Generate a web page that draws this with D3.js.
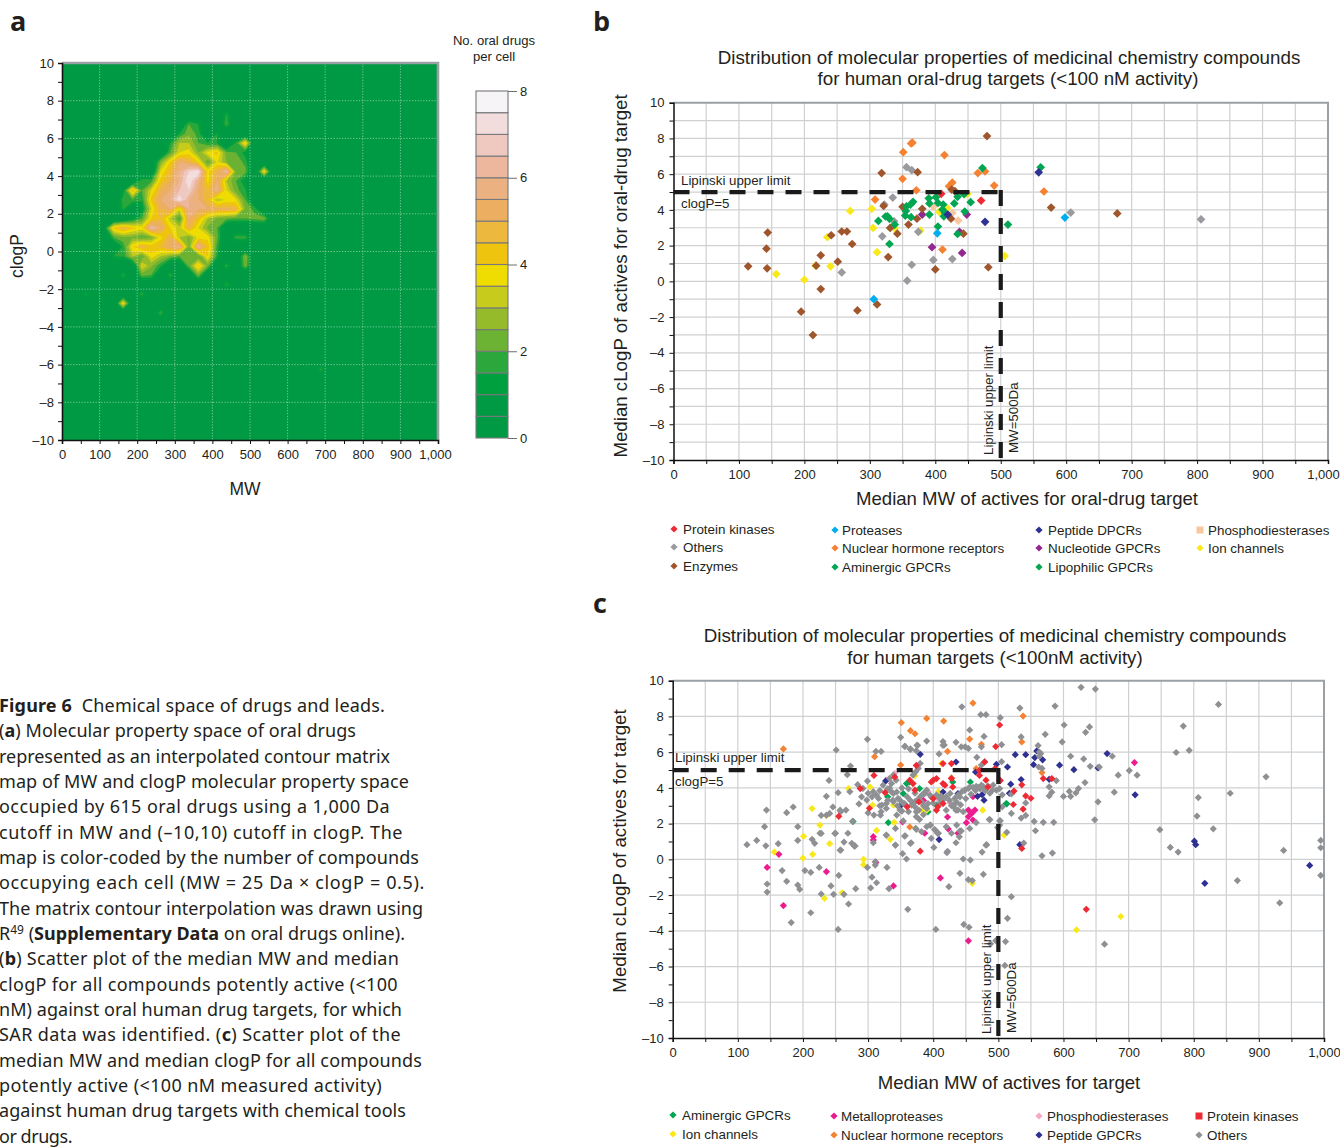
<!DOCTYPE html>
<html>
<head>
<meta charset="utf-8">
<style>
  html, body { margin: 0; padding: 0; background: #fff; }
  svg { display: block; }
  text { font-family: "Liberation Sans", Arial, sans-serif; fill: #231f20; }
  .caption text, .caption { font-family: "Noto Sans", sans-serif; font-size: 18px; }
  .letter { font-family: "Open Sans", sans-serif; font-weight: 700; font-size: 27px; }
  .tick text { font-size: 13px; font-family: "Liberation Sans", Arial, sans-serif; }
</style>
<script src="https://cdn.jsdelivr.net/npm/d3@7"></script>
</head>
<body>
<div id="chart"></div>
<script>
// panel a: drug counts on the 25 Da x 0.5 clogP grid, read from the contour map
// columns are cells 0..24 (MW 12.5, 37.5, ... 612.5), rows listed by clogP cell centre
const gridClogP = [7.25, 6.75, 6.25, 5.75, 5.25, 4.75, 4.25, 3.75, 3.25, 2.75, 2.25, 1.75, 1.25, 0.75, 0.25, -0.25, -0.75, -1.25, -1.75, -2.25, -2.75, -3.25];
const gridCounts = [
  [0,0,0,0,0,0,0,0,0,0,0,0,0,0,0,0,0,1.6,0,0,0,0,0,0,0],
  [0,0,0,0,0,0,0,0,0,0,0,0,0,2,1.5,0,0,2,0,0,0,0,0,0,0],
  [0,0,0,0,0,0,0,0,0,0,0,0,1.5,2.4,1.8,0,1.5,0,0,0,0,0,0,0,0],
  [0,0,0,0,0,0,0,0,0,0,0,1.5,3,3,2,1.5,1.5,0,1.6,4.2,0,0,0,0,0],
  [0,0,0,0,0,0,0,0,0,0,0,2,3.5,3.8,2.5,3.7,4.2,2.2,2,1.2,0,0,0,0,0],
  [0,0,0,0,0,0,0,0,0,0,2.5,4,5.5,5,4,2,3.6,2.5,2.4,1.8,0,0,0,0,0],
  [0,0,0,0,0,0,0,0,0,0,3.6,4.6,6,7,7.5,3.8,5,6.5,2.4,2.2,0,4,0,0,0],
  [0,0,0,0,0,0,0,0,1.8,1.8,4.2,5,6,7.5,6,3.8,5.5,3,2,1,0,0,0,0,0],
  [0,0,0,0,0,0,1,4.6,2,3.5,5,5.5,6.5,7,5.5,4.5,6,3.5,2.2,1.6,0,0,0,0,0],
  [0,0,0,0,0,0,1.8,2,1.6,4.2,5.5,6,7.5,6,5.5,4.5,3,3.6,3.6,2,0,0,0,0,0],
  [0,0,0,0,0,0,1.6,0,1,3.5,5,5.5,3.5,6,5.5,5.5,5.2,5.2,5,2.4,1.8,0,0,0,0],
  [0,0,0,0,0,0,0,1,2,4,4.6,3.2,1.8,5.5,4.4,3,2.4,2.2,2,2,2.2,2.4,0,0,0],
  [0,0,0,0,1,4.2,5,4.2,3.8,6.5,5.5,4,3.2,5,3.5,2.4,2,0,0,0,0,0,0,0,0],
  [0,0,0,0,0,2,2.4,2.4,2,2.4,3.8,5,3,2.4,3.7,3.8,2.2,0,1.8,1.8,0,0,0,0,0],
  [0,0,0,0,0,0,1.6,4,5,4.4,4.6,5.5,6,2.4,6.2,4.5,1.8,0,0,0,0,0,0,0,0],
  [0,0,0,0,0,1.5,1.6,3,2,3.8,3,2.4,2,2.2,2,4,1.6,0,0,2.6,0,0,0,0,0],
  [0,0,0,0,0,0,0,0,3.6,2.6,1.6,0,0,2.2,4.2,2.4,0,1.8,0,2.4,0,0,0,0,0],
  [0,0,0,0,0,0,1.7,0,2.2,2,0,1.8,0,0,2.4,0,0,0,0,0,0,0,0,0,0],
  [0,0,0,0,0,0,0,0,0,0,0,0,0,0,0,0,0,1.7,0,0,0,0,0,0,0],
  [0,0,1.6,0,0,0,0,0,1.8,0,0,0,0,0,0,0,0,0,0,0,0,0,0,0,0],
  [0,0,0,0,0,0,4,0,0,0,0,0,0,0,0,0,0,0,0,0,0,0,0,0,0],
  [0,0,0,0,0,0,0,0,0,0,1.9,0,0,0,0,0,0,0,0,0,0,0,0,0,0]
];
// isolated faint cells outside the table: [mw, clogP, count]
const farCells = [[812.5, 2.75, 1.5], [687.5, -6.25, 1.7]];
const countThresholds = d3.range(0.5, 8, 0.5);
const bandColors = ["#009a44", "#009a44", "#00a03f", "#2ca73b", "#6cb233", "#95bb2a", "#c7cc1c", "#efdc00", "#eec40e", "#edb83e", "#ecae60", "#ecb181", "#edb79d", "#efc9bf", "#f3dcdc", "#f6f4f6"];

// panel b: [median MW, median clogP] per oral-drug target
const bEnzymes = [[114,0.84],[142,1.83],[144,2.73],[143,0.73],[195,-1.7],[213,-3.01],[218,0.88],[225,1.46],[225,-0.43],[241,2.58],[251,1.1],[257,2.79],[265,2.79],[273,2.09],[281,-1.63],[311,-1.29],[318,6.06],[321,4.22],[328,1.36],[331,2.99],[342,2.67],[350,4.17],[359,3.18],[372,3.51],[373,6.11],[380,4.06],[400,0.67],[424,3.51],[425,5.14],[430,5.05],[443,2.67],[481,0.79],[479,8.13],[577,4.13],[678,3.8]];
const bNuclear = [[351,7.23],[363,7.72],[365,7.76],[414,7.07],[350,5.74],[465,6.06],[476,6.15],[490,5.36],[371,5.1],[421,5.33],[426,5.53],[308,4.58],[411,1.78],[566,5.03]];
const bOthers = [[356,6.39],[364,6.22],[335,4.69],[322,4.3],[337,3.36],[319,2.52],[374,2.77],[257,0.5],[364,0.93],[357,0.04],[397,1.2],[426,1.25],[607,3.85],[806,3.47]];
const bPeptide = [[419,3.74],[476,3.33],[558,6.1]];
const bProteases = [[306,-1],[403,2.69],[598,3.57]];
const bNucleotide = [[380,3.74],[395,1.91],[441,1.59],[448,3.74],[437,2.77]];
const bPhospho = [[397,4.17],[426,3.83],[435,3.4]];
const bKinases = [[409,4.9],[470,4.52]];
const bIon = [[157,0.41],[200,0.09],[217,0.88],[235,2.47],[240,0.84],[270,3.94],[303,4.06],[305,2.99],[311,1.63],[338,2.99],[377,2.84],[406,3.89],[418,4.11],[449,4.9],[506,1.42]];
const bAminergic = [[313,3.38],[324,3.63],[327,3.64],[330,3.5],[338,3.18],[330,2.09],[354,3.68],[356,4.2],[355,3.94],[362,4.3],[366,4.45],[363,3.59],[390,4.65],[391,4.36],[391,3.74],[404,3.07],[401,4.71],[404,4.39],[412,4.3],[411,4.02],[413,3.64],[415,3.83],[429,4.36],[434,4.73],[444,4.88],[454,4.43],[434,2.65]];
const bLipophilic = [[472,6.34],[561,6.38],[511,3.18],[445,3.91]];

// panel c: [median MW, median clogP] per human target
const cAminergic = [[331,2.06],[277,2.12],[330,3.5],[359,4.24],[364,4.33],[354,3.68],[405,3.03],[392,2.66],[457,4.33],[512,3.12],[379,3.96],[430,4.33],[513,3.11]];
const cPhospho = [[392,3.78],[426,3.16],[328,4.43],[341,4.82],[407,3.4]];
const cIon = [[156,0.41],[214,2.84],[201,1.29],[226,1.92],[236,2.46],[241,0.88],[215,0.28],[200,0.07],[293,0],[293,-0.3],[313,1.62],[334,1.12],[340,2.07],[233,-2.18],[260,-1.87],[270,3.96],[303,4.05],[307,3.04],[460,-1.34],[372,4.68],[413,5.37],[408,3.79],[339,3.04],[390,2.76],[382,2.75],[476,2.75],[509,1.36],[620,-3.95],[688,-3.2]];
const cMetallo = [[145,-0.45],[163,0.28],[236,-0.69],[170,-2.59],[308,1.27],[308,1.08],[312,-0.17],[339,-1.49],[411,-1.04],[387,1.46],[422,2.37],[423,1.7],[438,1.46],[461,3.51],[464,2.76],[454,2.39],[461,2.2],[451,2.05],[454,2.76],[459,2.57],[385,3.3],[353,2.1],[454,-4.56],[709,5.42]];
const cNuclear = [[170,6.18],[351,7.65],[365,7.2],[372,7.03],[390,7.89],[416,7.74],[461,8.75],[456,6.73],[474,6.44],[422,6.04],[310,5.75],[350,5.28],[364,1.81],[466,5.08],[428,4.56],[538,8.02],[536,6.57],[567,4.86]];
const cPeptide = [[327,4.39],[349,2.97],[380,5.88],[435,5.45],[465,4.89],[497,5.32],[514,5.17],[415,3.77],[409,1.11],[468,3.53],[475,3.62],[478,3.31],[438,3.68],[526,5.86],[542,5.86],[559,6.07],[556,5.7],[568,5.57],[554,5.3],[594,5.27],[616,5.02],[667,5.92],[653,5.12],[535,4.47],[519,4.21],[517,3.7],[578,4.48],[710,3.61],[533,0.82],[801,1.02],[803,0.82],[817,-1.34],[978,-0.34]];
const cKinases = [[288,3.96],[309,4.7],[255,2.41],[302,2.86],[326,3.74],[341,4.61],[369,4.24],[364,4.43],[372,3.87],[360,2.94],[378,3.22],[400,4.43],[397,4.33],[405,4.52],[415,5.36],[428,5.36],[415,4.24],[418,4.15],[430,4.05],[428,4.52],[400,3.4],[407,2.94],[415,3.12],[405,2.75],[471,4.98],[479,5.45],[471,4.7],[481,4.43],[484,4.05],[502,4.43],[374,5.26],[380,0.46],[502,7.52],[496,6.31],[503,4.41],[536,4.17],[569,4.52],[582,4.52],[524,3.82],[542,3.55],[550,3.42],[523,3.07],[538,2.81],[536,0.61],[635,-2.8],[495,5.08]];
const cOthers = [
  [114,0.82],[129,1.06],[143,0.76],[144,2.76],[141,1.83],[145,-1.38],[145,-1.83],[162,0.88],[168,-0.63],[175,2.61],[185,2.93],[175,-1.23],[182,-3.54],[192,1.83],[192,1.06],[192,-1.44],[195,-1.68],[203,-0.63],[212,-0.73],[212,-2.99],[214,1.12],[218,0.9],[226,1.46],[228,2.46],[225,-0.45],[228,-1.94],[236,3.53],[241,2.57],[246,2.93],[250,1.46],[243,-1.49],[247,-1.96],[255,-0.9],[254,3.73],[251,6.12],[258,2.67],[266,2.76],[258,0.52],[263,0.97],[263,-1.96],[269,1.46],[275,0.9],[280,0.75],[276,2.13],[273,5.22],[268,4.74],[240,4.42],[272,3.79],[270,-2.5],[281,-1.64],[284,4.18],[292,3.97],[299,6.72],[299,4.38],[299,-0.45],[306,-1],[313,-1.31],[304,-1.6],[311,-0.13],[311,-0.32],[308,0.93],[309,2.48],[298,3.32],[300,3.7],[308,3.79],[313,3.6],[316,3.41],[312,6.04],[320,6.04],[320,2.67],[321,3.04],[328,3.13],[328,2.85],[329,-0.45],[328,1.36],[342,0.8],[332,-1.64],[344,2.48],[339,3.23],[342,1.73],[349,2.76],[350,6.83],[357,6.32],[365,6.18],[376,6.38],[374,6.08],[390,6.62],[357,1.32],[353,0.32],[359,0.02],[361,-2.8],[366,0.93],[362,2.67],[369,3.13],[374,2.39],[378,2.76],[385,2.5],[390,2.85],[374,1.68],[382,1.55],[390,1.83],[397,1.18],[401,0.67],[396,1.92],[403,1.64],[408,1.46],[420,1.83],[428,1.46],[435,0.93],[441,-0.78],[446,0.02],[457,-0.04],[422,0.45],[424,-1.53],[454,-1.14],[460,-1.19],[477,-0.84],[475,0.41],[482,0.82],[487,2.22],[466,2.05],[456,1.73],[443,1.59],[436,1.92],
  [447,-3.64],[455,-3.8],[404,-3.92],[254,-3.92],[444,8.54],[473,8.1],[481,8.1],[456,7.24],[478,6.88],[415,6.59],[417,6.4],[435,6.55],[443,6.3],[449,6.3],[454,6.21],[474,6.3],[409,5.9],[467,5.71],[479,5.47],[474,5.28],[380,5.37],[377,5.09],[373,4.9],[369,4.72],[339,4.72],[333,4.53],
  [433,3.41],[438,3.6],[444,3.79],[449,3.88],[454,3.97],[461,4.03],[469,4.03],[477,4.07],[484,4.1],[492,4.16],[431,2.95],[438,2.76],[446,2.67],[420,3.51],[426,3.69],[415,3.32],[410,3.13],[390,3.88],[395,3.6],[385,3.69],[380,3.51],[372,3.23],[367,3.04],[354,3.13],[346,3.41],[339,3.69],[333,3.97],
  [323,4.15],[336,4.24],[343,4.43],[336,3.77],[344,3.77],[338,3.31],[349,3.31],[356,3.12],[372,2.94],[374,2.66],[382,3.22],[392,3.12],[387,3.68],[397,3.49],[410,3.4],[420,2.75],[435,2.75],[433,3.12],[441,3.49],[448,3.87],[456,4.05],[466,4.09],[474,4.15],[491,3.87],[497,3.87],[502,3.96],[356,6.32],[365,6.16],[375,6.38],[415,6.38],[236,2.47],[228,1.45],[257,2.75],[249,1.45],[279,0.74],[257,0.51],[319,2.47],[354,2.15],[373,1.73],[379,2.23],[395,1.91],[402,1.67],[407,1.45],[356,1.3],[365,0.89],[342,0.79],[328,1.35],[440,1.26],[421,0.37],[441,1.59],[486,2.23],[502,2.15],[499,1.78],[481,0.79],
  [345,3],[352,2.7],[318,3.85],[330,3.95],[360,3.5],[365,3.3],[375,3.3],[385,3],[400,3.15],[405,3.6],[412,3.55],[425,3.3],[428,3],[436,3.2],[442,3.05],[450,3.4],[458,3.65],[465,3.85],[472,3.95],[480,3.85],[487,3.7],[352,4],[362,3.95],[372,3.7],[330,3.3],[318,3],[306,3.5],[290,3.5],[286,3.1],[300,2.6],
  [627,9.63],[649,9.53],[533,8.47],[587,8.58],[503,7.93],[601,7.52],[640,7.41],[634,7.11],[572,7],[535,6.85],[598,6.57],[505,6.42],[561,6.37],[563,6.01],[565,5.92],[563,5.77],[611,5.77],[631,5.62],[505,5.47],[641,5.21],[562,5.17],[567,5.09],[655,5.17],[675,5.77],[684,4.71],[701,4.97],[713,4.71],[589,4.41],[578,4.06],[633,4.3],[623,3.96],[609,3.8],[619,3.72],[582,3.76],[578,3.55],[600,3.52],[611,3.52],[678,3.76],[653,3.22],[506,3.61],[520,3.66],[542,3.16],[506,2.94],[520,2.57],[542,2.46],[535,2.31],[555,2.12],[569,2.07],[585,2.07],[648,2.21],[557,1.6],[503,2.16],[502,1.92],[513,1.51],[539,0.91],[567,0.2],[583,0.35],[520,-2.09],[514,-3.3],[511,-4.6],[663,-4.75],[510,-5.94],[488,-4.73],[496,-4.55],
  [748,1.66],[764,0.67],[776,0.41],[773,5.98],[793,6.1],[784,7.46],[838,8.67],[807,3.46],[805,2.42],[830,1.71],[856,3.7],[911,4.62],[867,-1.19],[938,0.5],[932,-2.44],[995,1.06],[995,0.65],[995,-0.9]
];

const lipinskiMw = 500;
const lipinskiClogP = 5;
const mwTicks = d3.range(0, 1001, 100);
const clogPTicks = d3.range(-10, 11, 2);
const legendTicks = [0, 2, 4, 6, 8];

const captionLines = [
  [["Figure 6", true], ["  Chemical space of drugs and leads.", false]],
  [["(", false], ["a", true], [") Molecular property space of oral drugs", false]],
  [["represented as an interpolated contour matrix", false]],
  [["map of MW and clogP molecular property space", false]],
  [["occupied by 615 oral drugs using a 1,000 Da", false]],
  [["cutoff in MW and (\u201310,10) cutoff in clogP. The", false]],
  [["map is color-coded by the number of compounds", false]],
  [["occupying each cell (MW = 25 Da \u00d7 clogP = 0.5).", false]],
  [["The matrix contour interpolation was drawn using", false]],
  [["R", false], ["49", false, true], [" (", false], ["Supplementary Data", true], [" on oral drugs online).", false]],
  [["(", false], ["b", true], [") Scatter plot of the median MW and median", false]],
  [["clogP for all compounds potently active (<100", false]],
  [["nM) against oral human drug targets, for which", false]],
  [["SAR data was identified. (", false], ["c", true], [") Scatter plot of the", false]],
  [["median MW and median clogP for all compounds", false]],
  [["potently active (<100 nM measured activity)", false]],
  [["against human drug targets with chemical tools", false]],
  [["or drugs.", false]]
];
const captionEnds = [385, 356, 390, 409, 390, 403, 419, 425, 423, 405, 399, 398, 402, 401, 422, 382, 406, 72];

const svg = d3.select("#chart").append("svg").attr("width", 1340).attr("height", 1147);

const fmt = d => d < 0 ? "\u2013" + Math.abs(d) : (d >= 1000 ? "1,000" : String(d));

function label(x, y, txt, size, anchor, rotate) {
  const t = svg.append("text").attr("font-size", size).attr("text-anchor", anchor || "start").text(txt);
  if (rotate) t.attr("transform", `translate(${x},${y}) rotate(${rotate})`);
  else t.attr("x", x).attr("y", y);
  return t;
}

// diamond that is as wide as it is tall, d3.symbolDiamond is too narrow here
const squareDiamond = {
  draw(ctx, size) {
    const r = Math.sqrt(size / 2);
    ctx.moveTo(0, -r); ctx.lineTo(r, 0); ctx.lineTo(0, r); ctx.lineTo(-r, 0); ctx.closePath();
  }
};

/* ---------- panel a ---------- */
const ax = d3.scaleLinear().domain([0, 1000]).range([62, 438]);
const ay = d3.scaleLinear().domain([-10, 10]).range([440, 63]);

const cellCount = 40;
const values = new Array(cellCount * cellCount).fill(0);
gridClogP.forEach((p, r) => {
  const row = Math.round((p + 9.75) / 0.5);
  gridCounts[r].forEach((v, c) => { values[row * cellCount + c] = v; });
});
farCells.forEach(([mw, p, v]) => {
  values[Math.round((p + 9.75) / 0.5) * cellCount + Math.round((mw - 12.5) / 25)] = v;
});

const defs = svg.append("defs");
defs.append("clipPath").attr("id", "clipA").append("rect")
  .attr("x", ax(0)).attr("y", ay(10)).attr("width", ax(1000) - ax(0)).attr("height", ay(-10) - ay(10));
defs.append("filter").attr("id", "soft").append("feGaussianBlur").attr("stdDeviation", 0.5);

const contourPath = d3.geoPath(d3.geoTransform({
  point(x, y) { this.stream.point(ax(x * 25), ay(-10 + y * 0.5)); }
}));
const contours = d3.contours().size([cellCount, cellCount]).thresholds(countThresholds)(values);

const gA = svg.append("g");
gA.append("rect").attr("x", ax(0)).attr("y", ay(10)).attr("width", ax(1000) - ax(0)).attr("height", ay(-10) - ay(10)).attr("fill", bandColors[0]);
gA.append("g").attr("clip-path", "url(#clipA)").append("g").attr("filter", "url(#soft)")
  .selectAll("path").data(contours).enter().append("path")
  .attr("d", contourPath)
  .attr("fill", (d, i) => bandColors[i + 1]);

// dotted grid
gA.selectAll(".gv").data(mwTicks.slice(1, -1)).enter().append("line")
  .attr("x1", d => ax(d)).attr("x2", d => ax(d)).attr("y1", ay(10)).attr("y2", ay(-10))
  .attr("stroke", "#fff").attr("stroke-opacity", 0.6).attr("stroke-width", 0.8).attr("stroke-dasharray", "1.2,1.6");
gA.selectAll(".gh").data(clogPTicks.slice(1, -1)).enter().append("line")
  .attr("x1", ax(0)).attr("x2", ax(1000)).attr("y1", d => ay(d)).attr("y2", d => ay(d))
  .attr("stroke", "#fff").attr("stroke-opacity", 0.6).attr("stroke-width", 0.8).attr("stroke-dasharray", "1.2,1.6");
gA.append("path").attr("d", `M${ax(0)},${ay(10)}H${ax(1000)}V${ay(-10)}`).attr("fill", "none").attr("stroke", "#9ba0a4").attr("stroke-width", 2.6);

const axA = gA.append("g").attr("transform", `translate(0,${ay(-10)})`)
  .call(d3.axisBottom(ax).tickValues(d3.range(0, 1001, 50)).tickSize(4).tickPadding(6).tickFormat(d => d % 100 === 0 ? fmt(d) : ""));
const ayA = gA.append("g").attr("transform", `translate(${ax(0)},0)`)
  .call(d3.axisLeft(ay).tickValues(d3.range(-10, 11, 1)).tickSize(4).tickPadding(4).tickFormat(d => d % 2 === 0 ? fmt(d) : ""));
[axA, ayA].forEach(g => { g.select(".domain").attr("stroke", "#111").attr("stroke-width", 1.6); g.selectAll("line").attr("stroke", "#111"); });
axA.selectAll(".tick text").filter(d => d === 1000).attr("dx", -3);

label(245, 495, "MW", 17.5, "middle");
label(23, 256, "clogP", 17.5, "middle", -90);
label(494, 45, "No. oral drugs", 13.1, "middle");
label(494, 61, "per cell", 13.1, "middle");

// colour key
const keyY = d3.scaleLinear().domain([0, 8]).range([438, 91]);
const keyG = svg.append("g");
keyG.selectAll("rect").data(bandColors).enter().append("rect")
  .attr("x", 476).attr("width", 32)
  .attr("y", (d, i) => keyY((i + 1) * 0.5)).attr("height", (d, i) => keyY(i * 0.5) - keyY((i + 1) * 0.5))
  .attr("fill", d => d).attr("stroke", "#77787b").attr("stroke-width", 1.1);
const keyAxis = keyG.append("g").attr("transform", "translate(508,0)")
  .call(d3.axisRight(keyY).tickValues(legendTicks).tickSize(9).tickPadding(3));
keyAxis.select(".domain").remove();
keyAxis.selectAll("line").attr("stroke", "#6d6e71").attr("stroke-width", 1);

/* ---------- panels b and c ---------- */
function scatterPanel(cfg) {
  const x = d3.scaleLinear().domain([0, 1000]).range(cfg.xRange);
  const y = d3.scaleLinear().domain([-10, 10]).range(cfg.yRange);
  const g = svg.append("g");

  g.selectAll(".vg").data(d3.range(50, 1000, 50)).enter().append("line")
    .attr("x1", d => x(d)).attr("x2", d => x(d)).attr("y1", y(10)).attr("y2", y(-10))
    .attr("stroke", "#cfd0d2").attr("stroke-width", 1.2);
  g.selectAll(".hg").data(d3.range(-10 + cfg.gridStep, 10, cfg.gridStep)).enter().append("line")
    .attr("x1", x(0)).attr("x2", x(1000)).attr("y1", d => y(d)).attr("y2", d => y(d))
    .attr("stroke", "#cfd0d2").attr("stroke-width", 1.2);
  g.append("path").attr("d", `M${x(0)},${y(10)}H${x(1000)}V${y(-10)}`).attr("fill", "none").attr("stroke", "#9ba0a4").attr("stroke-width", 2);

  const bx = g.append("g").attr("transform", `translate(0,${y(-10)})`)
    .call(d3.axisBottom(x).tickValues(d3.range(0, 1001, 50)).tickSize(4).tickPadding(6).tickFormat(d => d % 100 === 0 ? fmt(d) : ""));
  const ly = g.append("g").attr("transform", `translate(${x(0)},0)`)
    .call(d3.axisLeft(y).tickValues(d3.range(-10, 11, 1)).tickSize(4).tickPadding(5).tickFormat(d => d % 2 === 0 ? fmt(d) : ""));
  [bx, ly].forEach(a => { a.select(".domain").attr("stroke", "#111").attr("stroke-width", 1.5); a.selectAll("line").attr("stroke", "#111"); });
  bx.selectAll(".tick text").filter(d => d === 1000).attr("dx", cfg.lastTickShift);

  const sym = d3.symbol().type(squareDiamond).size(cfg.markSize);
  cfg.series.forEach(s => {
    g.append("g").selectAll("path").data(s.values).enter().append("path")
      .attr("d", sym)
      .attr("transform", d => `translate(${x(d[0])},${y(d[1])})`)
      .attr("fill", s.color);
  });

  // Lipinski limits
  g.append("line").attr("x1", x(0)).attr("x2", x(lipinskiMw)).attr("y1", y(lipinskiClogP)).attr("y2", y(lipinskiClogP))
    .attr("stroke", "#1a1a1a").attr("stroke-width", 4.2).attr("stroke-dasharray", "16,12");
  g.append("line").attr("x1", x(lipinskiMw)).attr("x2", x(lipinskiMw)).attr("y1", y(lipinskiClogP) - 2).attr("y2", y(-10))
    .attr("stroke", "#1a1a1a").attr("stroke-width", 4.2).attr("stroke-dasharray", "16,12");

  cfg.legend.forEach(e => {
    const gl = svg.append("g").attr("transform", `translate(${e[2]},${e[3]})`);
    if (e[4]) gl.append("rect").attr("x", -3.5).attr("y", -3.5).attr("width", 7).attr("height", 7).attr("fill", e[1]);
    else gl.append("path").attr("d", d3.symbol().type(squareDiamond).size(26)()).attr("fill", e[1]);
    label(e[2] + e[5], e[3] + 4.5, e[0], 13.4);
  });
}

const cRed = "#ee2a35", cGray = "#9a9b9f", cGrayC = "#8f9093", cBrown = "#a0562c", cSky = "#00aeef", cOrange = "#f58233",
  cGreen = "#00a651", cNavy = "#2e3192", cPurple = "#92278f", cPeach = "#f7c8a0", cYellow = "#f9e81c", cMag = "#ec1c8e", cPink = "#f4a9c8";

scatterPanel({
  xRange: [673.5, 1328], yRange: [460, 102.7], gridStep: 1, markSize: 38, lastTickShift: -5,
  series: [
    { values: bIon, color: cYellow }, { values: bOthers, color: cGray }, { values: bPhospho, color: cPeach },
    { values: bNuclear, color: cOrange }, { values: bKinases, color: cRed }, { values: bNucleotide, color: cPurple },
    { values: bEnzymes, color: cBrown }, { values: bAminergic, color: cGreen }, { values: bLipophilic, color: cGreen },
    { values: bPeptide, color: cNavy }, { values: bProteases, color: cSky }
  ],
  legend: [
    ["Protein kinases", cRed, 674, 529, false, 9], ["Others", cGray, 674, 547, false, 9], ["Enzymes", cBrown, 674, 566, false, 9],
    ["Proteases", cSky, 835, 530, false, 7], ["Nuclear hormone receptors", cOrange, 835, 548, false, 7], ["Aminergic GPCRs", cGreen, 835, 567, false, 7],
    ["Peptide DPCRs", cNavy, 1039, 530, false, 9], ["Nucleotide GPCRs", cPurple, 1039, 548, false, 9], ["Lipophilic GPCRs", cGreen, 1039, 567, false, 9],
    ["Phosphodiesterases", cPeach, 1200, 530, true, 8], ["Ion channels", cYellow, 1200, 548, false, 8]
  ]
});

scatterPanel({
  xRange: [672.7, 1324], yRange: [1038, 680.7], gridStep: 2, markSize: 26, lastTickShift: 0,
  series: [
    { values: cAminergic, color: cGreen }, { values: cPhospho, color: cPink }, { values: cIon, color: cYellow },
    { values: cMetallo, color: cMag }, { values: cNuclear, color: cOrange }, { values: cPeptide, color: cNavy },
    { values: cOthers, color: cGrayC }, { values: cKinases, color: cRed }
  ],
  legend: [
    ["Aminergic GPCRs", cGreen, 673, 1115, false, 9], ["Ion channels", cYellow, 673, 1134, false, 9],
    ["Metalloproteases", cMag, 834, 1116, false, 7], ["Nuclear hormone receptors", cOrange, 834, 1135, false, 7],
    ["Phosphodiesterases", cPink, 1039, 1116, false, 8], ["Peptide GPCRs", cNavy, 1039, 1135, false, 8],
    ["Protein kinases", cRed, 1199, 1116, true, 8], ["Others", cGrayC, 1199, 1135, false, 8]
  ]
});

/* ---------- texts ---------- */
label(1009, 64, "Distribution of molecular properties of medicinal chemistry compounds", 18.75, "middle");
label(1008, 85, "for human oral-drug targets (<100 nM activity)", 18.75, "middle");
label(1027, 505, "Median MW of actives for oral-drug target", 18.6, "middle");
label(627, 276, "Median cLogP of actives for oral-drug target", 18.7, "middle", -90);
label(681, 185, "Lipinski upper limit", 13.3);
label(681, 208, "clogP=5", 13.3);
label(993, 455, "Lipinski upper limit", 13.3, "start", -90);
label(1018, 453, "MW=500Da", 13.3, "start", -90);

label(995, 642, "Distribution of molecular properties of medicinal chemistry compounds", 18.75, "middle");
label(995, 664, "for human targets (<100nM activity)", 18.75, "middle");
label(1009, 1089, "Median MW of actives for target", 18.6, "middle");
label(626, 851, "Median cLogP of actives for target", 18.7, "middle", -90);
label(675, 762, "Lipinski upper limit", 13.3);
label(675, 786, "clogP=5", 13.3);
label(991, 1034, "Lipinski upper limit", 13.3, "start", -90);
label(1016, 1033, "MW=500Da", 13.3, "start", -90);

svg.append("text").attr("class", "letter").attr("x", 10).attr("y", 31).text("a");
svg.append("text").attr("class", "letter").attr("x", 593).attr("y", 31).text("b");
svg.append("text").attr("class", "letter").attr("x", 593).attr("y", 613).text("c");

const cap = svg.append("g").attr("class", "caption");
captionLines.forEach((parts, i) => {
  const t = cap.append("text").attr("x", -1).attr("y", 712 + i * 25.33).style("white-space", "pre");
  parts.forEach(p => {
    const s = t.append("tspan").text(p[0]);
    if (p[1]) s.attr("font-weight", 700);
    if (p[2]) s.attr("dy", -6).attr("font-size", 12);
    else if (i === 9 && p[0].startsWith(" (")) s.attr("dy", 6);
  });
  // the original face is wider on digits, so fit each line to its measured end
  const n = t.text().length;
  t.style("letter-spacing", ((captionEnds[i] + 1 - t.node().getComputedTextLength()) / n) + "px");
});
</script>
</body>
</html>
